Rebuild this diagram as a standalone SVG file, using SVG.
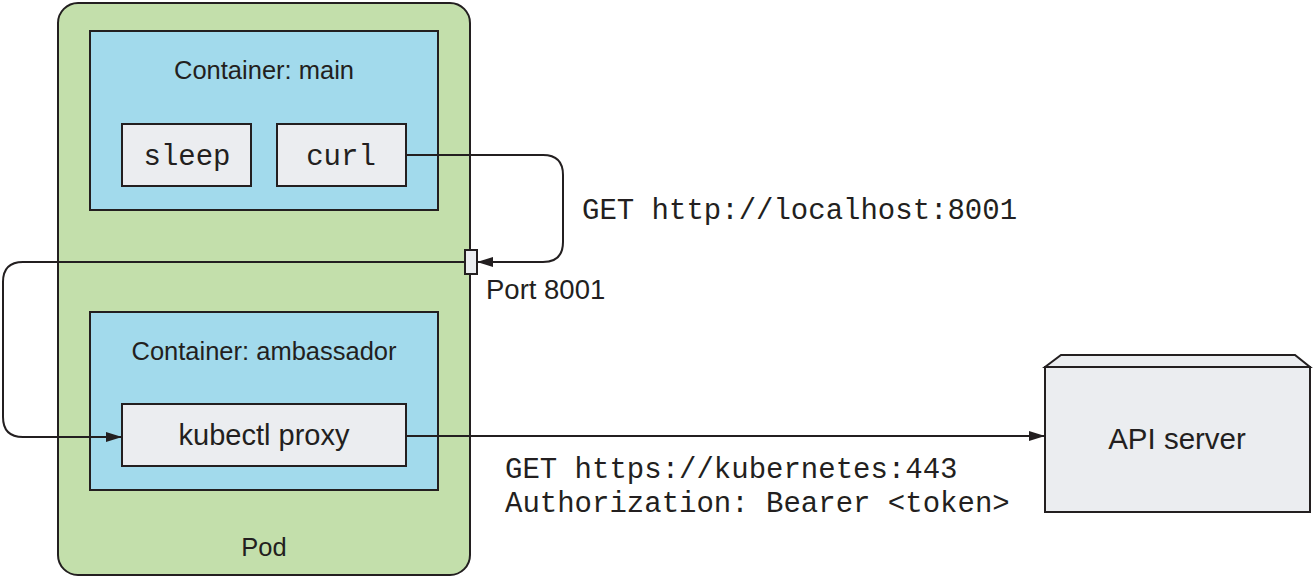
<svg xmlns="http://www.w3.org/2000/svg" width="1313" height="579" viewBox="0 0 1313 579">
<style>
.ln{fill:none;stroke:#231f20;stroke-width:2}
.pod{fill:#c3dfab;stroke:#231f20;stroke-width:2}
.ctr{fill:#a2daec;stroke:#231f20;stroke-width:2}
.box{fill:#ebedf0;stroke:#231f20;stroke-width:2}
.sans{font-family:"Liberation Sans",Arial,sans-serif;font-size:25.5px;fill:#231f20}
.big{font-size:29px}
.mono{font-family:"Liberation Mono","Courier New",monospace;font-size:29px;fill:#231f20}
</style>
<defs>
<marker id="ah" viewBox="0 0 16 10" refX="16" refY="5" markerWidth="16" markerHeight="10" markerUnits="userSpaceOnUse" orient="auto">
<path d="M0,0 L16,5 L0,10 Z" fill="#231f20"/>
</marker>
</defs>
<g id="pod">
<rect class="pod" x="58" y="3" width="412" height="572" rx="20"/>
<text class="sans" x="264" y="556" text-anchor="middle">Pod</text>
</g>
<g id="container-main">
<rect class="ctr" x="90" y="31" width="348" height="179"/>
<text class="sans" x="264" y="79" text-anchor="middle">Container: main</text>
</g>
<g id="sleep">
<rect class="box" x="122" y="124" width="129" height="62"/>
<text class="mono" x="187" y="165" text-anchor="middle">sleep</text>
</g>
<g id="curl">
<rect class="box" x="277" y="124" width="129" height="62"/>
<text class="mono" x="341" y="165" text-anchor="middle">curl</text>
</g>
<g id="container-ambassador">
<rect class="ctr" x="90" y="312" width="348" height="178"/>
<text class="sans" x="264" y="360" text-anchor="middle">Container: ambassador</text>
</g>
<g id="kubectl-proxy">
<rect class="box" x="122" y="404" width="284" height="62"/>
<text class="sans big" x="264" y="445" text-anchor="middle">kubectl proxy</text>
</g>
<g id="api-server">
<path class="box" d="M1045,367 L1061,355 L1295,355 L1310,367 Z"/>
<rect class="box" x="1045" y="367" width="265" height="145"/>
<text class="sans big" x="1177" y="449" text-anchor="middle" style="font-size:29.5px">API server</text>
</g>
<g id="connectors">
<path class="ln" d="M406,155 H543 Q563,155 563,175 V242 Q563,262 543,262 H477" marker-end="url(#ah)"/>
<path class="ln" d="M465,262 H23 Q3,262 3,282 V417 Q3,437 23,437 H122" marker-end="url(#ah)"/>
<path class="ln" d="M406,436 H1045" marker-end="url(#ah)"/>
</g>
<g id="port">
<rect class="box" x="465" y="250" width="12" height="24"/>
<text class="sans" x="486" y="299" style="font-size:27.5px">Port 8001</text>
</g>
<g id="labels">
<text class="mono" x="582" y="219">GET http://localhost:8001</text>
<text class="mono" x="505" y="478">GET https://kubernetes:443</text>
<text class="mono" x="505" y="512">Authorization: Bearer &lt;token&gt;</text>
</g>
</svg>
